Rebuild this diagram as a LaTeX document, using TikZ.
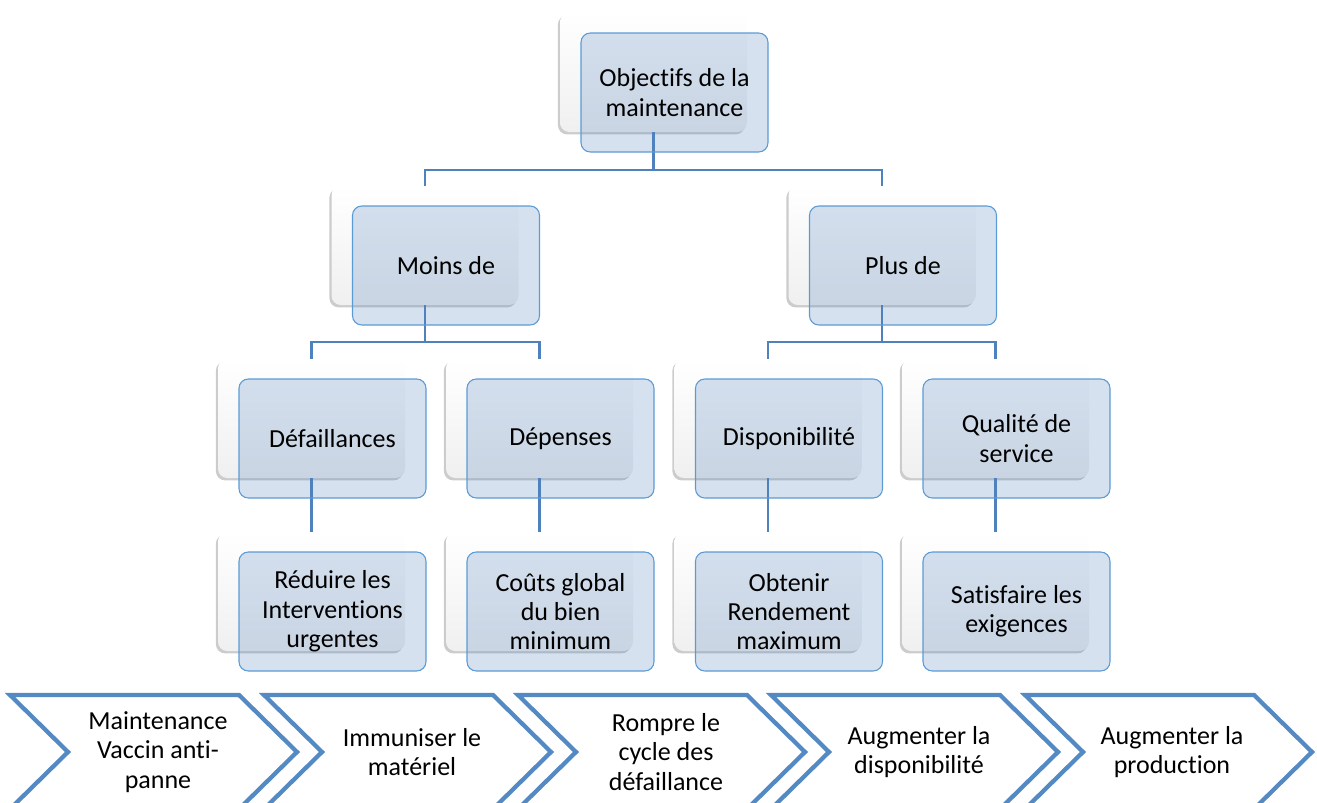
\documentclass[tikz,border=0pt]{standalone}
\usepackage{fontspec}
\setmainfont{Carlito}[Ligatures=NoCommon]
\usetikzlibrary{shadows}

\definecolor{linkblue}{RGB}{79,129,189}
\definecolor{edgeblue}{RGB}{91,155,213}
\definecolor{chevblue}{RGB}{84,138,196}

\begin{document}
\begin{tikzpicture}[
    x=0.75pt, y=-0.75pt,
    back/.style={
        rectangle, rounded corners=7pt, draw=none,
        top color=white, bottom color=black!6,
        minimum width=140.25pt, minimum height=89.25pt,
        inner sep=0pt, outer sep=0pt,
        drop shadow={shadow xshift=-1.6pt, shadow yshift=-1.8pt, opacity=0.4}
    },
    front/.style={
        rectangle, rounded corners=7pt, draw=edgeblue, line width=0.8pt,
        fill=linkblue, fill opacity=0.24, text opacity=1,
        minimum width=140.25pt, minimum height=89.25pt,
        inner sep=0pt, outer sep=0pt,
        align=center, font=\fontsize{19.5}{22}\selectfont
    },
    link/.style={draw=linkblue, line width=1.8pt},
    chev/.style={draw=chevblue, line width=3.2pt, miter limit=10},
    chevtext/.style={align=center, font=\fontsize{19.5}{22}\selectfont},
]
\useasboundingbox (0,0) rectangle (1317,803);
\clip (0,0) rectangle (1317,803);

% ── Back boxes (white, shadowed) ─────────────────────────────
\node[back] (objB)   at (653.5, 72.5)  {};
\node[back] (moinsB) at (425, 245.5)   {};
\node[back] (plusB)  at (882, 245.5)   {};
\node[back] (defB)   at (311.5, 418.5) {};
\node[back] (depB)   at (539.5, 418.5) {};
\node[back] (dispB)  at (768, 418.5)   {};
\node[back] (qualB)  at (995.5, 418.5) {};
\node[back] (redB)   at (311.5, 591.5) {};
\node[back] (coutB)  at (539.5, 591.5) {};
\node[back] (rendB)  at (768, 591.5)   {};
\node[back] (exigB)  at (995.5, 591.5) {};

% ── Connectors ───────────────────────────────────────────────
\draw[link] (objB.south) -- ++(0,38) -| (moinsB.north);
\draw[link] (objB.south) -- ++(0,38) -| (plusB.north);
\draw[link] (moinsB.south) -- ++(0,37) -| (defB.north);
\draw[link] (moinsB.south) -- ++(0,37) -| (depB.north);
\draw[link] (plusB.south) -- ++(0,37) -| (dispB.north);
\draw[link] (plusB.south) -- ++(0,37) -| (qualB.north);
\draw[link] (defB.south) -- (redB.north);
\draw[link] (depB.south) -- (coutB.north);
\draw[link] (dispB.south) -- (rendB.north);
\draw[link] (qualB.south) -- (exigB.north);

% ── Front boxes (blue) ───────────────────────────────────────
\node[front] (obj)   at (674.5, 92.5)  {Objectifs de la\\maintenance};
\node[front] (moins) at (446, 265.5)   {Moins de};
\node[front] (plus)  at (903, 265.5)   {Plus de};
\node[front] (def)   at (332.5, 438.5) {Défaillances};
\node[front] (dep)   at (560.5, 438.5) {Dépenses};
\node[front] (disp)  at (789, 438.5)   {Disponibilité};
\node[front] (qual)  at (1016.5, 438.5) {Qualité de\\service};
\node[front] (red)   at (332.5, 611.5) {Réduire les\\Interventions\\urgentes};
\node[front] (cout)  at (560.5, 611.5) {Coûts global\\du bien\\minimum};
\node[front] (rend)  at (789, 611.5)   {Obtenir\\Rendement\\maximum};
\node[front] (exig)  at (1016.5, 611.5) {Satisfaire les\\exigences};

% ── Process chevrons (bottom) ────────────────────────────────
\draw[chev] (10,695)   -- ++(229,0) -- ++(58,57) -- ++(-58,57) -- ++(-229,0) -- ++(58,-57) -- cycle;
\draw[chev] (264,695)  -- ++(229,0) -- ++(58,57) -- ++(-58,57) -- ++(-229,0) -- ++(58,-57) -- cycle;
\draw[chev] (518,695)  -- ++(229,0) -- ++(58,57) -- ++(-58,57) -- ++(-229,0) -- ++(58,-57) -- cycle;
\draw[chev] (771,695)  -- ++(229,0) -- ++(58,57) -- ++(-58,57) -- ++(-229,0) -- ++(58,-57) -- cycle;
\draw[chev] (1025,695) -- ++(229,0) -- ++(58,57) -- ++(-58,57) -- ++(-229,0) -- ++(58,-57) -- cycle;

\node[chevtext] (c1) at (158, 752)  {Maintenance\\Vaccin anti-\\panne};
\node[chevtext] (c2) at (412, 752)  {Immuniser le\\matériel};
\node[chevtext] (c3) at (666, 752)  {Rompre le\\cycle des\\défaillance};
\node[chevtext] (c4) at (919, 752)  {Augmenter la\\disponibilité};
\node[chevtext] (c5) at (1172, 752) {Augmenter la\\production};

\end{tikzpicture}
\end{document}
